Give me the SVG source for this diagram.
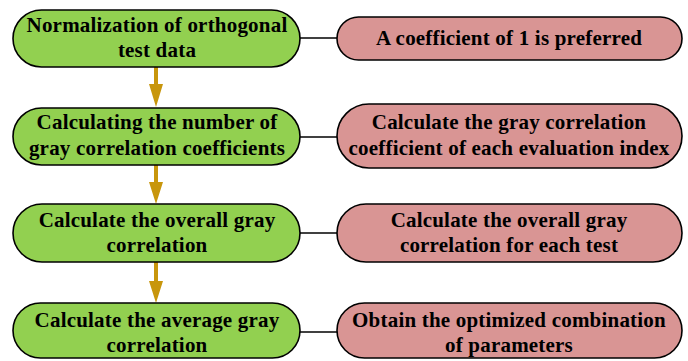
<svg xmlns="http://www.w3.org/2000/svg" width="688" height="361" viewBox="0 0 688 361">
<defs>
<style>
.g{fill:#92D050;stroke:#000;stroke-width:1.6}
.p{fill:#D99594;stroke:#000;stroke-width:1.6}
.t{font-family:'Liberation Serif','Times New Roman',serif;font-weight:700;font-size:21px;letter-spacing:0.2px;fill:#000;text-anchor:middle}
.l{stroke:#000;stroke-width:1.6;fill:none}
.a{fill:#C8960C}
</style>
</defs>
<rect width="688" height="361" fill="#fff"/>
<g id="connectors">
<line class="l" x1="300" y1="38" x2="337" y2="38"/>
<line class="l" x1="300" y1="137" x2="337" y2="137"/>
<line class="l" x1="300" y1="233" x2="337" y2="233"/>
<line class="l" x1="300" y1="332" x2="337" y2="332"/>
<path class="a" d="M154 67 H158 V84 H163 L156 107 L149 84 H154 Z"/>
<path class="a" d="M154 165 H158 V182 H163 L156 204 L149 182 H154 Z"/>
<path class="a" d="M154 262 H158 V281 H163 L156 303 L149 281 H154 Z"/>
</g>
<g id="g1"><rect class="g" x="13" y="10" width="287" height="57" rx="28.5"/>
<text class="t" x="157" y="32">Normalization of orthogonal</text><text class="t" x="157" y="57">test data</text></g>
<g id="g2"><rect class="g" x="13" y="108" width="287" height="57" rx="28.5"/>
<text class="t" x="157" y="129">Calculating the number of</text><text class="t" x="157" y="155">gray correlation coefficients</text></g>
<g id="g3"><rect class="g" x="13" y="204" width="287" height="58" rx="29"/>
<text class="t" x="157" y="227">Calculate the overall gray</text><text class="t" x="157" y="252">correlation</text></g>
<g id="g4"><rect class="g" x="13" y="303" width="287" height="55" rx="27.5"/>
<text class="t" x="157" y="327">Calculate the average gray</text><text class="t" x="157" y="352">correlation</text></g>
<g id="p1"><rect class="p" x="337" y="17" width="345" height="43" rx="21.5"/>
<text class="t" x="509" y="45">A coefficient of 1 is preferred</text></g>
<g id="p2"><rect class="p" x="337" y="104" width="345" height="64" rx="32"/>
<text class="t" x="509" y="129">Calculate the gray correlation</text><text class="t" x="509" y="155">coefficient of each evaluation index</text></g>
<g id="p3"><rect class="p" x="337" y="204" width="345" height="58" rx="29"/>
<text class="t" x="509" y="227">Calculate the overall gray</text><text class="t" x="509" y="252">correlation for each test</text></g>
<g id="p4"><rect class="p" x="337" y="303" width="345" height="55" rx="27.5"/>
<text class="t" x="509" y="327">Obtain the optimized combination</text><text class="t" x="509" y="352">of parameters</text></g>
</svg>
